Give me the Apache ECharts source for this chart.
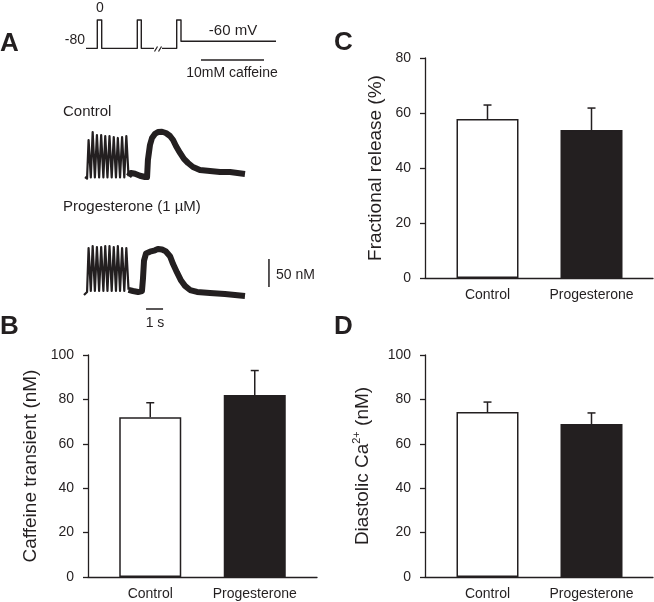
<!DOCTYPE html>
<html><head><meta charset="utf-8">
<script src="https://cdn.jsdelivr.net/npm/echarts@6/dist/echarts.min.js"></script>
<style>html,body{margin:0;padding:0;background:#fff}#c{width:654px;height:602px}</style>
</head><body><div id="c"></div>
<script>
// ---------- DATA ----------
const categories = ['Control', 'Progesterone'];
// Panel B: caffeine transient (nM)
const caffeineMean = [72, 82];
const caffeineErrTop = [78.5, 93];
// Panel C: fractional release (%)
const fracMean = [57.8, 53.8];
const fracErrTop = [62.9, 61.8];
// Panel D: diastolic Ca2+ (nM)
const diastMean = [74.3, 68.9];
const diastErrTop = [78.8, 73.9];

// Panel A: voltage protocol (arbitrary time units, mV)
const protoPart1 = [[0,-80],[11.3,-80],[11.3,0],[15.7,0],[15.7,-80],[51.3,-80],[51.3,0],[55.3,0],[55.3,-80],[68,-80]];
const protoPart2 = [[76,-80],[90.7,-80],[90.7,0],[95,0],[95,-60],[190,-60]];
const protoSlash1 = [[68.5,-89],[71.5,-75]];
const protoSlash2 = [[72.5,-89],[75.5,-75]];
const caffeineBar = [[115,-113],[178,-113]];

// Panel A: Ca2+ traces (time s, nM, arbitrary zero)
const ctrlSpikes = [[0.06,10.7],[0.18,8],
 [0.23,8],[0.27,76.8],[0.4,10],
 [0.47,8],[0.51,91.1],[0.64,10],
 [0.72,8],[0.76,85.7],[0.89,10],
 [0.97,8],[1.01,85.7],[1.14,10],
 [1.21,8],[1.25,83.9],[1.38,10],
 [1.46,8],[1.5,83.9],[1.63,10],
 [1.71,8],[1.75,82.1],[1.88,10],
 [1.95,8],[1.99,80.4],[2.12,10],
 [2.2,8],[2.24,82.1],[2.37,10],
 [2.45,8],[2.49,83.9],[2.62,12]];
const ctrlSlow = [[2.62,12],[2.76,18],[3.0,16.5],[3.29,13],[3.59,10.7],[3.71,10.7],[3.76,41.1],[3.88,67.9],[4.0,80.4],[4.18,88],[4.35,91],[4.59,91.5],[4.82,89.3],[5.06,83.9],[5.24,76.8],[5.41,66.1],[5.65,53.6],[5.88,42.9],[6.12,35.7],[6.41,28.6],[6.82,23.2],[7.41,21.4],[8.0,19.6],[8.59,19.6],[9.47,16.1]];
const progSpikes = [[0.0,10.7],[0.18,16],
 [0.23,16],[0.27,94.6],[0.4,18],
 [0.47,16],[0.51,98.2],[0.64,18],
 [0.72,16],[0.76,96.4],[0.89,18],
 [0.97,16],[1.01,96.4],[1.14,18],
 [1.21,16],[1.25,98.2],[1.38,18],
 [1.46,16],[1.5,98.2],[1.63,18],
 [1.71,16],[1.75,96.4],[1.88,18],
 [1.95,16],[1.99,98.2],[2.12,18],
 [2.2,16],[2.24,94.6],[2.37,18],
 [2.45,16],[2.49,94.6],[2.62,20]];
const progSlow = [[2.62,20],[2.88,17.9],[3.18,16.1],[3.41,17.9],[3.47,40],[3.53,72],[3.65,85],[3.88,88],[4.18,90.5],[4.35,93],[4.59,92],[4.82,88.5],[5.06,80],[5.24,66],[5.47,51],[5.71,36.5],[5.94,27],[6.24,19.6],[6.65,16.1],[7.41,14.3],[8.29,12.5],[9.47,8.9]];
// scale bars
const scaleBarNM = [[10.88,25],[10.88,75]];   // 50 nM
const scaleBarTime = [[3.65,-14.3],[4.65,-14.3]]; // 1 s

// ---------- STYLE ----------
const ink = '#231f20';
const ff = '"Liberation Sans", Arial, Helvetica, sans-serif';

const chart = echarts.init(document.getElementById('c'), null, {renderer: 'canvas'});

const grids = [
  {left: 86, top: 20, width: 190, height: 42.5},      // 0 protocol
  {left: 84, top: 127, width: 187, height: 56},       // 1 control trace
  {left: 84, top: 245, width: 187, height: 67.2},     // 2 progesterone trace
  {left: 88, top: 355, width: 229, height: 222},      // 3 B frame
  {left: 98, top: 355, width: 209, height: 222},      // 4 B bars
  {left: 425, top: 58, width: 228, height: 220},      // 5 C frame
  {left: 435.5, top: 58, width: 208, height: 220},    // 6 C bars
  {left: 425, top: 355, width: 228, height: 222},     // 7 D frame
  {left: 435.5, top: 355, width: 208, height: 222}    // 8 D bars
];

function hiddenX(g, min, max) { return {gridIndex: g, type: 'value', min, max, show: false}; }
function hiddenY(g, min, max) { return {gridIndex: g, type: 'value', min, max, show: false}; }
function frameX(g) {
  return {gridIndex: g, type: 'value', min: 0, max: 1, axisLine: {show: true, onZero: false, lineStyle: {color: ink, width: 1.3}}, axisTick: {show: false}, axisLabel: {show: false}, splitLine: {show: false}};
}
function catX(g) {
  return {gridIndex: g, type: 'category', data: categories, axisLine: {show: false}, axisTick: {show: false},
    axisLabel: {interval: 0, hideOverlap: false, fontFamily: ff, fontSize: 14, color: ink, margin: 10}};
}

const xAxes = [
  hiddenX(0, 0, 190), hiddenX(1, 0, 11), hiddenX(2, 0, 11),
  frameX(3), catX(4), frameX(5), catX(6), frameX(7), catX(8)
];

function frameY(g, max, name, gap, rich) {
  return {
    gridIndex: g, type: 'value', min: 0, max, interval: 20,
    name, nameLocation: 'middle', nameRotate: 90, nameGap: gap,
    nameTextStyle: {fontFamily: ff, fontSize: 19, color: ink, rich: rich},
    axisLine: {show: true, onZero: false, lineStyle: {color: ink, width: 1.3}},
    axisTick: {show: true, length: 5, inside: false, lineStyle: {color: ink, width: 1.3}},
    axisLabel: {fontFamily: ff, fontSize: 14, color: ink, margin: 14},
    splitLine: {show: false}
  };
}
const supRich = {
  sup: {fontFamily: ff, fontSize: 11, color: ink, verticalAlign: 'top', lineHeight: 24}
};
const yAxes = [
  hiddenY(0, -120, 0), hiddenY(1, 0, 100), hiddenY(2, -20, 100),
  frameY(3, 100, 'Caffeine transient (nM)', 48),
  hiddenY(4, 0, 100),
  frameY(5, 80, 'Fractional release (%)', 40),
  hiddenY(6, 0, 80),
  frameY(7, 100, 'Diastolic Ca{sup|2+} (nM)', 50, supRich),
  hiddenY(8, 0, 100)
];

function lineS(idx, data, width) {
  return {type: 'line', xAxisIndex: idx, yAxisIndex: idx, data, showSymbol: false, symbol: 'none', clip: false, silent: true,
    lineStyle: {color: ink, width, join: 'round', cap: 'butt'}, z: 3};
}

function barS(idx, means) {
  return {type: 'bar', xAxisIndex: idx, yAxisIndex: idx, barWidth: 62, silent: true,
    data: means.map((v, i) => ({value: v, itemStyle: {color: i === 0 ? '#ffffff' : ink, borderColor: ink, borderWidth: 1.5}})), z: 2};
}
function errS(idx, means, tops) {
  return {type: 'custom', xAxisIndex: idx, yAxisIndex: idx, silent: true, z: 4,
    data: means.map((v, i) => [i, v, tops[i]]),
    encode: {x: 0, y: [1, 2]},
    renderItem: function (params, api) {
      const p0 = api.coord([api.value(0), api.value(1)]);
      const p1 = api.coord([api.value(0), api.value(2)]);
      const st = {stroke: ink, lineWidth: 1.5};
      return {type: 'group', children: [
        {type: 'line', shape: {x1: p0[0], y1: p0[1], x2: p1[0], y2: p1[1]}, style: st},
        {type: 'line', shape: {x1: p1[0] - 4, y1: p1[1], x2: p1[0] + 4, y2: p1[1]}, style: st}
      ]};
    }
  };
}

const series = [
  lineS(0, protoPart1, 1.4), lineS(0, protoPart2, 1.4), lineS(0, protoSlash1, 1.2), lineS(0, protoSlash2, 1.2), lineS(0, caffeineBar, 1.4),
  lineS(1, ctrlSpikes, 2.2), lineS(1, ctrlSlow, 6),
  lineS(2, progSpikes, 2.2), lineS(2, progSlow, 6),
  lineS(2, scaleBarNM, 1.5), lineS(2, scaleBarTime, 1.5),
  barS(4, caffeineMean), errS(4, caffeineMean, caffeineErrTop),
  barS(6, fracMean), errS(6, fracMean, fracErrTop),
  barS(8, diastMean), errS(8, diastMean, diastErrTop)
];

function txt(text, x, y, size, align, bold) {
  return {type: 'text', x, y, silent: true, z: 10,
    style: {text, fill: ink, font: (bold ? 'bold ' : '') + size + 'px ' + ff, align: align, verticalAlign: 'middle'}};
}
const graphics = [
  txt('A', 0, 44, 26, 'left', true),
  txt('B', 0, 327, 26, 'left', true),
  txt('C', 334, 43, 26, 'left', true),
  txt('D', 334, 327, 26, 'left', true),
  txt('0', 100, 8, 14, 'center'),
  txt('-80', 85, 40, 14, 'right'),
  txt('-60 mV', 233, 31, 15, 'center'),
  txt('10mM caffeine', 232, 73.5, 14, 'center'),
  txt('Control', 63, 112, 15, 'left'),
  txt('Progesterone (1 µM)', 63, 207, 15, 'left'),
  txt('50 nM', 276, 275, 14, 'left'),
  txt('1 s', 155, 323, 14, 'center')
];

chart.setOption({
  animation: false,
  backgroundColor: '#ffffff',
  grid: grids,
  xAxis: xAxes,
  yAxis: yAxes,
  series: series,
  graphic: graphics
});
</script></body></html>
